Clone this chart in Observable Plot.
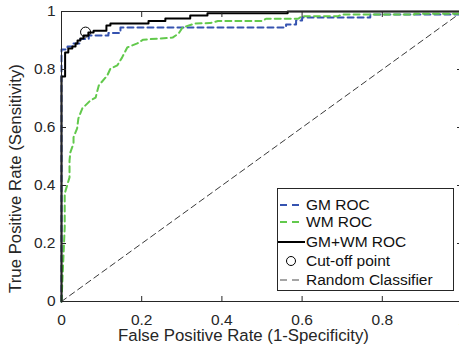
<!DOCTYPE html>
<html>
<head>
<meta charset="utf-8">
<script src="https://cdn.jsdelivr.net/npm/d3@7"></script>
<script src="https://cdn.jsdelivr.net/npm/@observablehq/plot@0.6"></script>
<style>
  body { margin: 0; background: #fff; }
  #wrap { position: relative; width: 459px; height: 350px; font-family: "Liberation Sans", Arial, Helvetica, sans-serif; }
  #legend { position: absolute; left: 277px; top: 188px; width: 177px; height: 103px; border: 1px solid #262626; background: #fff; box-sizing: border-box; font-size: 15.5px; color: #111; }
  .row { position: absolute; left: 0; height: 18px; display: flex; align-items: center; }
  .row svg { display: block; }
  .row span { margin-left: 1px; white-space: nowrap; }
</style>
</head>
<body>
<div id="wrap"></div>
<script>
// ---- data ----
const gmFpr = [0,0,0.015,0.015,0.03,0.03,0.047,0.047,0.068,0.068,0.117,0.117,0.147,0.147,0.56,0.56,0.585,0.585,0.6,0.6,0.77,0.77,1,1];
const gmTpr = [0,0.869,0.869,0.879,0.879,0.89,0.89,0.905,0.905,0.917,0.917,0.926,0.926,0.945,0.945,0.955,0.955,0.969,0.969,0.979,0.979,0.99,0.99,1];

const wmFpr = [0,0.008,0.008,0.02,0.02,0.022,0.03,0.03,0.039,0.042,0.052,0.072,0.085,0.093,0.114,0.122,0.139,0.151,0.164,0.189,0.204,0.277,0.292,0.302,0.334,0.37,0.39,0.5,0.51,0.59,0.6,0.69,0.7,0.88,0.88,1,1];
const wmTpr = [0,0.255,0.372,0.428,0.486,0.514,0.545,0.566,0.597,0.631,0.666,0.693,0.703,0.745,0.779,0.803,0.814,0.841,0.876,0.89,0.903,0.91,0.924,0.945,0.959,0.96,0.967,0.967,0.975,0.975,0.984,0.984,0.99,0.99,0.992,0.992,1];

const comboFpr = [0,0,0.009,0.009,0.017,0.017,0.027,0.027,0.035,0.035,0.04,0.04,0.047,0.047,0.055,0.055,0.067,0.067,0.08,0.08,0.112,0.112,0.122,0.122,0.217,0.217,0.259,0.259,0.321,0.321,0.364,0.364,0.564,0.564,1];
const comboTpr = [0,0.776,0.776,0.859,0.859,0.872,0.872,0.879,0.879,0.89,0.89,0.9,0.9,0.907,0.907,0.917,0.917,0.928,0.928,0.934,0.934,0.952,0.952,0.959,0.959,0.967,0.967,0.976,0.976,0.986,0.986,0.994,0.994,1,1];

const cutoffFpr = [0.06];
const cutoffTpr = [0.929];

const randomFpr = [0, 1];
const randomTpr = [0, 1];

const xTicks = [0, 0.2, 0.4, 0.6, 0.8, 1];
const yTicks = [0, 0.2, 0.4, 0.6, 0.8, 1];
const xTitle = "False Positive Rate (1-Specificity)";
const yTitle = "True Positive Rate (Sensitivity)";
const legendLabels = ["GM ROC", "WM ROC", "GM+WM ROC", "Cut-off point", "Random Classifier"];

// ---- tables ----
const toRows = (xs, ys) => xs.map((x, i) => ({x, y: ys[i]}));
const gm = toRows(gmFpr, gmTpr);
const wm = toRows(wmFpr, wmTpr);
const combo = toRows(comboFpr, comboTpr);
const cutoff = toRows(cutoffFpr, cutoffTpr);
const rnd = toRows(randomFpr, randomTpr);

const axisColor = "#262626";
const blue = "#3553b0";
const green = "#62c94c";
const fmt = d => String(d);

const chart = Plot.plot({
  width: 459,
  height: 350,
  marginTop: 11,
  marginLeft: 61,
  marginRight: 0,
  marginBottom: 49,
  style: {fontFamily: '"Liberation Sans", Arial, Helvetica, sans-serif', fontSize: "15.5px", color: axisColor, background: "#fff"},
  x: {domain: [0, 1], range: [61, 462]},
  y: {domain: [0, 1], range: [301, 11]},
  marks: [
    Plot.line(rnd, {x: "x", y: "y", stroke: "#222", strokeWidth: 0.9, strokeDasharray: "6,4"}),
    Plot.line(gm, {x: "x", y: "y", stroke: blue, strokeWidth: 2, strokeDasharray: "6,4"}),
    Plot.line(wm, {x: "x", y: "y", stroke: green, strokeWidth: 2, strokeDasharray: "6,4"}),
    Plot.line(combo, {x: "x", y: "y", stroke: "#000", strokeWidth: 2}),
    Plot.dot(cutoff, {x: "x", y: "y", r: 5, stroke: "#000", strokeWidth: 1, fill: "none"}),
    Plot.ruleX([0], {stroke: axisColor, strokeWidth: 1}),
    Plot.ruleY([0], {stroke: axisColor, strokeWidth: 1}),
    Plot.ruleY([1], {stroke: axisColor, strokeWidth: 1}),
    Plot.axisX(xTicks, {anchor: "bottom", tickSize: -5, tickPadding: 17, tickFormat: fmt, label: null, fontSize: 15.5, stroke: axisColor, fill: axisColor}),
    Plot.axisX(xTicks, {anchor: "top", tickSize: -5, tickFormat: () => "", label: null, stroke: axisColor}),
    Plot.axisY(yTicks, {anchor: "left", tickSize: -5, tickPadding: 11, tickFormat: fmt, label: null, fontSize: 15.5, stroke: axisColor, fill: axisColor}),
    Plot.axisY(yTicks, {anchor: "right", tickSize: -3, tickFormat: () => "", label: null, stroke: axisColor}),
    Plot.text([yTitle], {frameAnchor: "left", rotate: -90, textAnchor: "middle", lineAnchor: "middle", dx: -46, dy: 22, fontSize: 16.8, fill: axisColor, text: d => d}),
    Plot.text([xTitle], {frameAnchor: "bottom", textAnchor: "middle", lineAnchor: "middle", dx: -17, dy: 34, fontSize: 16.8, fill: axisColor, text: d => d})
  ]
});

const wrap = document.getElementById("wrap");
wrap.appendChild(chart);

// ---- legend (HTML overlay inside plot area) ----
const legend = document.createElement("div");
legend.id = "legend";
const rowTops = [7, 24, 44, 63, 82];
const swatches = [
  `<line x1="2" y1="9" x2="26" y2="9" stroke="${blue}" stroke-width="2" stroke-dasharray="7,5"/>`,
  `<line x1="2" y1="9" x2="26" y2="9" stroke="${green}" stroke-width="2" stroke-dasharray="7,5"/>`,
  `<line x1="0" y1="9" x2="27" y2="9" stroke="#000" stroke-width="2"/>`,
  `<circle cx="13" cy="9" r="4.5" fill="none" stroke="#000" stroke-width="1"/>`,
  `<line x1="2" y1="9" x2="26" y2="9" stroke="#888" stroke-width="1.5" stroke-dasharray="7,5"/>`
];
legendLabels.forEach((lab, i) => {
  const row = document.createElement("div");
  row.className = "row";
  row.style.top = rowTops[i] + "px";
  row.innerHTML = `<svg width="27" height="18">${swatches[i]}</svg><span>${lab}</span>`;
  legend.appendChild(row);
});
wrap.appendChild(legend);
</script>
</body>
</html>
